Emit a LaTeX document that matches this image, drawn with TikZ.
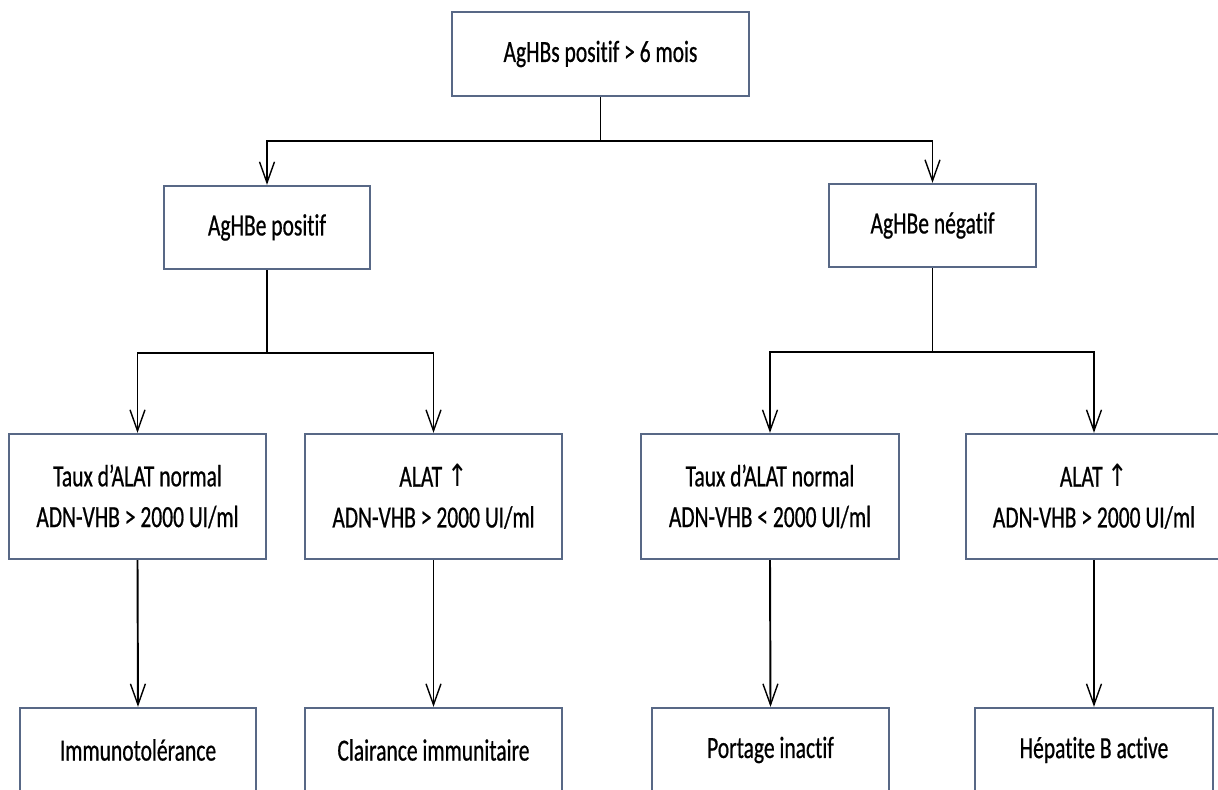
\documentclass[tikz,border=0pt]{standalone}
\usepackage{fontspec}
\setmainfont{Carlito}[FakeStretch=0.70, FakeBold=0.6, Ligatures=NoCommon]
\newfontfamily\arrowfont{DejaVu Sans}[FakeStretch=0.8]
\usetikzlibrary{arrows.meta}
\definecolor{boxline}{RGB}{88,104,134}
\tikzset{
	stagebox/.style={shape=rectangle, draw=boxline, line width=1.3pt, fill=white, align=center, inner sep=0pt, font=\fontsize{17.5}{23.2}\selectfont},
	wire/.style={draw=black, line width=1.1pt},
	arr/.style={wire, -{Straight Barb[length=0.42cm, width=0.3cm, line width=0.8pt]}}
}
\newcommand{\up}{{\arrowfont\char"2191}}
\begin{document}
\begin{tikzpicture}
				\useasboundingbox (0, 0) rectangle (24.36, 15.78);
				\clip (0, 0) rectangle (24.36, 15.78);
				% Paths, nodes and wires:
				\node[stagebox, minimum width=5.94cm, minimum height=1.68cm] (top) at (12.01, 14.70){AgHBs positif > 6 mois};
				\node[stagebox, minimum width=4.12cm, minimum height=1.66cm] (pos) at (5.34, 11.23){AgHBe positif};
				\node[stagebox, minimum width=4.14cm, minimum height=1.66cm] (neg) at (18.65, 11.27){AgHBe négatif};
				\node[stagebox, minimum width=5.14cm, minimum height=2.5cm] (la) at (2.75, 5.85){Taux d’ALAT normal\\ADN-VHB > 2000 UI/ml};
				\node[stagebox, minimum width=5.14cm, minimum height=2.5cm] (lb) at (8.67, 5.85){ALAT \up\\ADN-VHB > 2000 UI/ml};
				\node[stagebox, minimum width=5.16cm, minimum height=2.5cm] (lc) at (15.40, 5.85){Taux d’ALAT normal\\ADN-VHB < 2000 UI/ml};
				\node[stagebox, minimum width=5.12cm, minimum height=2.5cm] (ld) at (21.88, 5.85){ALAT \up\\ADN-VHB > 2000 UI/ml};
				\node[stagebox, minimum width=4.72cm, minimum height=1.68cm] (ia) at (2.76, 0.78){Immunotolérance};
				\node[stagebox, minimum width=5.14cm, minimum height=1.68cm] (ib) at (8.67, 0.78){Clairance immunitaire};
				\node[stagebox, minimum width=4.74cm, minimum height=1.68cm] (ic) at (15.41, 0.78){Portage inactif};
				\node[stagebox, minimum width=4.76cm, minimum height=1.68cm] (id) at (21.88, 0.78){Hépatite B active};
				\draw[arr] (top.south) -- ++(0, -0.88) -| (pos.north);
				\draw[arr] (top.south) -- ++(0, -0.88) -| (neg.north);
				\draw[arr] (pos.south) -- ++(0, -1.66) -| (la.north);
				\draw[arr] (pos.south) -- ++(0, -1.66) -| (lb.north);
				\draw[arr] (neg.south) -- ++(0, -1.68) -| (lc.north);
				\draw[arr] (neg.south) -- ++(0, -1.68) -| (ld.north);
				\draw[arr] (la.south) -- (ia.north);
				\draw[arr] (lb.south) -- (ib.north);
				\draw[arr] (lc.south) -- (ic.north);
				\draw[arr] (ld.south) -- (id.north);
			\end{tikzpicture}
\end{document}
